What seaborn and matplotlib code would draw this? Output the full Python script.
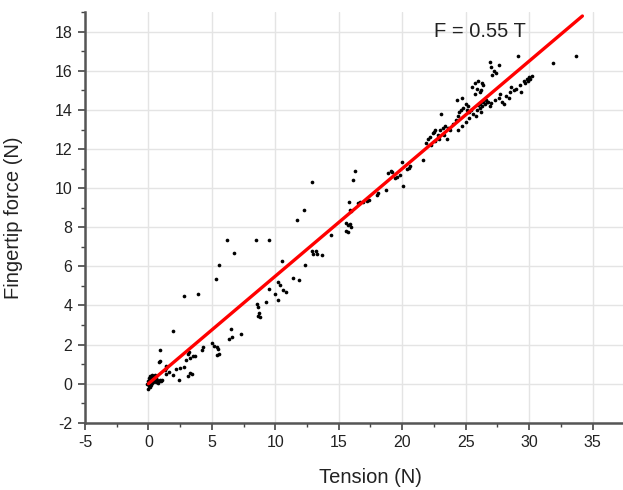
import numpy as np
import pandas as pd
import seaborn as sns
import matplotlib
matplotlib.use('Agg')
import matplotlib.pyplot as plt
from matplotlib.ticker import MultipleLocator

tension = [
    0.0, 0.05, 0.1, -0.1, 0.0, 0.15, 0.2, 0.25, 0.3, 0.35, 0.4, 0.45, 0.5, 0.55, 0.6,
    0.65, 0.7, 0.8, 0.9, 1.0, 0.1, 0.2, -0.05, 0.3, 0.4, 0.05, 0.15, 0.25, 0.5, 0.35,
    0.1, 0.2, 0.75, 1.1, 0.6,
    0.9, 0.8, 0.9, 1.3, 1.35, 1.4, 1.4, 1.6, 1.9, 1.9, 2.2, 2.5, 2.8, 2.4, 2.81, 3.93,
    3.0, 3.1, 3.3, 3.5, 3.2, 3.7, 3.1, 3.25, 3.4, 4.2, 4.3, 5.0, 5.2, 5.4, 5.6, 5.4,
    5.5, 5.35, 5.56, 6.17, 6.77, 8.48, 9.53, 6.5, 6.56, 6.38, 7.3,
    8.55, 8.6, 8.7, 8.65, 8.8, 9.3, 9.5, 9.97, 10.2, 10.25, 10.4, 10.6, 10.85, 10.5,
    11.37, 11.9, 12.34, 12.9, 13.2,
    12.92, 12.26, 11.68, 14.4, 13.0, 13.3, 13.7,
    15.6, 15.7, 15.9, 16.0, 15.55, 15.75,
    15.83, 15.9, 16.0, 16.15, 16.3, 16.5, 16.7, 16.9, 17.2, 17.4, 18.0, 18.1, 18.7,
    18.9, 19.1, 19.2, 19.4, 19.6, 19.8, 20.0, 20.1, 20.35, 20.5, 20.6,
    21.6, 21.9, 22.0, 22.2, 22.4, 22.5, 22.6, 22.8, 23.0, 23.2, 23.4, 23.6, 23.8,
    23.06, 22.3, 22.6, 22.9, 23.3, 23.5,
    24.0, 24.2, 24.4, 24.5, 24.6, 24.8, 25.0, 25.2, 24.3, 24.7, 25.1, 25.3, 25.4,
    24.4, 24.7, 25.0, 25.3, 25.6, 25.9, 26.1, 26.3, 26.5, 26.7, 26.2, 25.8, 26.0,
    25.5, 25.7, 25.7, 25.9, 26.0, 26.2, 26.4, 26.1, 26.3,
    26.9, 27.0, 27.2, 27.4, 27.6, 27.1,
    26.1, 26.4, 26.6, 26.8, 26.9, 27.0,
    27.3, 27.6, 27.9, 28.2, 28.5, 28.8, 28.6, 29.0, 29.3, 29.6, 29.8, 30.0, 30.2,
    29.4, 28.0, 28.4, 27.7,
    29.15, 31.9, 33.67, 29.7, 29.9, 30.1,
]
force = [
    0.0, -0.1, 0.05, 0.0, -0.25, 0.1, 0.2, 0.3, 0.35, 0.25, 0.4, 0.3, 0.2, 0.35, 0.1,
    0.15, 0.2, 0.15, 0.2, 0.15, 0.25, 0.35, 0.15, 0.05, 0.1, 0.3, 0.4, 0.45, 0.45, 0.15,
    -0.15, -0.05, 0.05, 0.2, 0.3,
    1.74, 1.1, 1.15, 0.7, 0.8, 0.9, 0.5, 0.6, 2.69, 0.42, 0.75, 0.8, 0.85, 0.2, 4.46, 4.6,
    1.2, 1.5, 1.3, 1.4, 1.6, 1.4, 0.4, 0.55, 0.5, 1.7, 1.9, 2.1, 1.95, 1.9, 1.5, 1.45,
    1.75, 5.37, 6.05, 7.33, 6.7, 7.35, 7.36, 2.8, 2.38, 2.3, 2.55,
    4.1, 3.9, 3.6, 3.45, 3.4, 4.17, 4.85, 4.6, 4.26, 5.2, 5.05, 4.8, 4.7, 6.3,
    5.4, 5.3, 6.05, 6.78, 6.78,
    10.3, 8.86, 8.35, 7.58, 6.65, 6.65, 6.6,
    8.2, 8.1, 8.15, 8.0, 7.8, 7.75,
    9.28, 8.9, 8.85, 10.4, 10.9, 9.25, 9.3, 9.3, 9.35, 9.4, 9.65, 9.75, 9.9,
    10.8, 10.9, 10.85, 10.5, 10.55, 10.7, 11.33, 10.1, 11.0, 11.05, 11.15,
    11.42, 12.3, 12.5, 12.6, 12.8, 12.9, 13.0, 12.7, 13.0, 13.1, 13.2, 13.1, 13.0,
    13.8, 12.2, 12.4, 12.5, 12.7, 12.5,
    13.3, 13.5, 13.7, 13.9, 14.0, 14.1, 14.3, 14.2, 14.5, 14.6, 14.0, 13.9, 14.0,
    13.0, 13.2, 13.4, 13.6, 13.8, 14.0, 14.1, 14.2, 14.3, 14.4, 13.9, 13.7, 14.25,
    15.2, 15.4, 14.8, 15.1, 15.5, 15.0, 15.3, 14.9, 15.4,
    16.44, 16.2, 16.0, 15.9, 16.3, 15.8,
    14.3, 14.4, 14.5, 14.4, 14.2, 14.35,
    14.5, 14.6, 14.4, 14.7, 14.9, 15.0, 15.2, 15.1, 15.3, 15.5, 15.6, 15.7, 15.75,
    14.9, 14.3, 14.6, 14.8,
    16.78, 16.39, 16.78, 15.4, 15.5, 15.6,
]

# linear fit F = 0.55 T
slope = 0.55
fit_tension = [0.0, 34.2]

df = pd.DataFrame({'Tension': tension, 'Force': force})
fit = pd.DataFrame({'Tension': fit_tension,
                    'Force': [slope * t for t in fit_tension]})

sns.set_theme(style='whitegrid')
plt.rcParams['font.family'] = ['Liberation Sans', 'DejaVu Sans']
plt.rcParams['axes.unicode_minus'] = False

fig = plt.figure(figsize=(6.23, 4.90), dpi=100)
ax = fig.add_axes([0.1364, 0.1373, 0.8636, 0.8376])

sns.scatterplot(data=df, x='Tension', y='Force', ax=ax, color='black',
                s=7, linewidth=0, zorder=3)
sns.lineplot(data=fit, x='Tension', y='Force', ax=ax, color='#ff0000',
             linewidth=2.4, zorder=4)

ax.set_xlim(-5, 37.4)
ax.set_ylim(-2, 19)
ax.xaxis.set_major_locator(MultipleLocator(5))
ax.xaxis.set_minor_locator(MultipleLocator(2.5))
ax.yaxis.set_major_locator(MultipleLocator(2))
ax.yaxis.set_minor_locator(MultipleLocator(1))

ax.grid(True, which='major', color='#e4e4e4', linewidth=1.0)
ax.grid(False, which='minor')
for side in ['top', 'right']:
    ax.spines[side].set_visible(False)
for side in ['left', 'bottom']:
    ax.spines[side].set_color('#555555')
    ax.spines[side].set_linewidth(1.8)

ax.tick_params(which='major', direction='out', length=5, width=1.2,
               color='#444444', labelsize=11.5, labelcolor='#222222',
               left=True, bottom=True, pad=4)
ax.tick_params(which='minor', direction='out', length=3, width=1.0,
               color='#444444', left=True, bottom=True)

ax.set_xlabel('Tension (N)', fontsize=14.5, color='#222222')
ax.set_ylabel('Fingertip force (N)', fontsize=14.5, color='#222222')
ax.xaxis.set_label_coords(0.531, -0.11)
ax.yaxis.set_label_coords(-0.115, 0.5)

ax.text(22.5, 18.04, 'F = 0.55 T', fontsize=14.5, color='#222222',
        ha='left', va='center')

fig.savefig('out.png', dpi=100)
